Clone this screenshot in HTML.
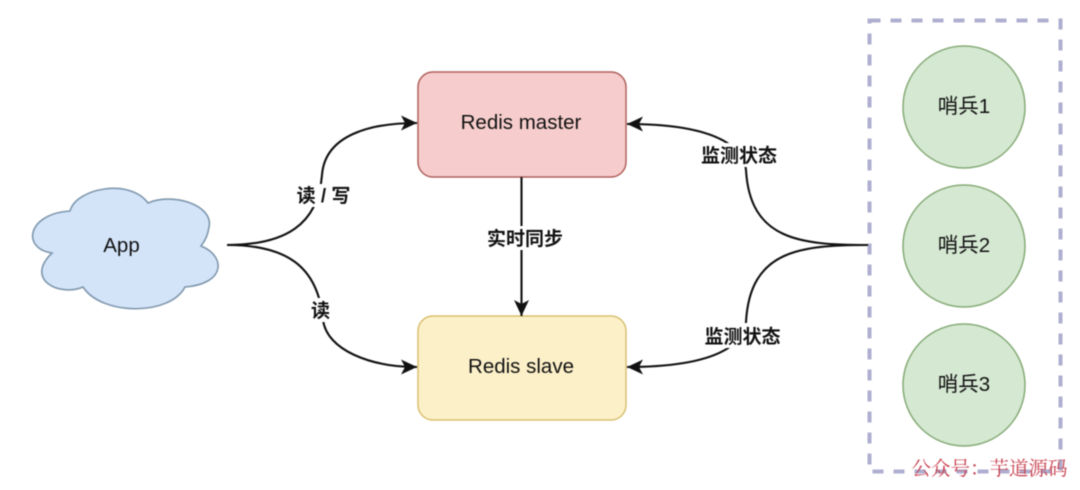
<!DOCTYPE html>
<html>
<head>
<meta charset="utf-8">
<style>
html,body{margin:0;padding:0;background:#fff;width:1080px;height:490px;overflow:hidden}
svg{display:block;filter:blur(.5px)}
text{font-family:"Liberation Sans","Noto Sans CJK SC",sans-serif;fill:#111;text-anchor:middle}
.b{font-weight:700;font-size:19px}
.n{font-size:20.5px}
</style>
</head>
<body>
<svg width="1080" height="490" viewBox="0 0 1080 490" xmlns="http://www.w3.org/2000/svg">
<defs>
<marker id="a" markerUnits="userSpaceOnUse" markerWidth="18" markerHeight="18" refX="17" refY="9" orient="auto">
<path d="M1 1.500 L17 9 L1 16.500 L5 9 Z" fill="#111"/>
</marker>
</defs>
<rect width="1080" height="490" fill="#fff"/>

<rect x="869.500" y="20.500" width="191" height="451" fill="#fff" stroke="#aeaed0" stroke-width="4" stroke-dasharray="11 10"/>

<path d="M70 211 C76 188 130 178 148 203 C172 192 214 205 209 227 C208 235 205 241 201 246 C226 256 226 284 185 287 C170 316 102 316 83 287 C60 297 24 280 52 253 C22 249 26 214 70 211 Z" fill="#d3e4f9" stroke="#7f97ad" stroke-width="1.600"/>
<text class="n" x="121.500" y="252">App</text>

<rect x="418" y="72" width="208" height="105" rx="15" fill="#f6cdcc" stroke="#b0605c" stroke-width="1.500"/>
<text class="n" x="521" y="129">Redis master</text>
<rect x="418" y="316" width="208" height="104" rx="15" fill="#fcf0c8" stroke="#d8c070" stroke-width="1.500"/>
<text class="n" x="521" y="373">Redis slave</text>

<circle cx="964" cy="107" r="61" fill="#d5e8d2" stroke="#86ab77" stroke-width="1.500"/>
<circle cx="964" cy="246" r="61" fill="#d5e8d2" stroke="#86ab77" stroke-width="1.500"/>
<circle cx="964" cy="385" r="61" fill="#d5e8d2" stroke="#86ab77" stroke-width="1.500"/>
<text class="n" x="964" y="113">哨兵1</text>
<text class="n" x="964" y="252">哨兵2</text>
<text class="n" x="964" y="391">哨兵3</text>

<g fill="none" stroke="#111" stroke-width="2.100">
<path d="M227 245 C285 245 318 225 322 175 C325 135 370 123 417 123" marker-end="url(#a)"/>
<path d="M227 245 C285 245 318 265 323 320 C327 350 370 367 417 367" marker-end="url(#a)"/>
<path d="M868 245 C800 245 750 240 746 170 C745 158 735 124 627 124" marker-end="url(#a)"/>
<path d="M868 245 C800 245 750 250 746 322 C745 334 735 367 627 367" marker-end="url(#a)"/>
<path d="M521.500 177 L521.500 316" marker-end="url(#a)"/>
</g>

<g fill="#fff">
<rect x="294" y="184" width="60" height="23"/>
<rect x="309" y="298" width="23" height="24"/>
<rect x="485" y="226" width="80" height="24"/>
<rect x="699" y="143" width="80" height="24"/>
<rect x="703" y="323" width="80" height="25"/>
</g>
<text class="b" x="323.500" y="202">读 / 写</text>
<text class="b" x="320.500" y="317">读</text>
<text class="b" x="525" y="245">实时同步</text>
<text class="b" x="739" y="162">监测状态</text>
<text class="b" x="742.500" y="343">监测状态</text>

<text x="989.500" y="475" style="font-family:'Liberation Serif','Noto Serif CJK SC',serif;font-size:19.500px;fill:#c8404f">公众号：芋道源码</text>
</svg>
</body>
</html>
